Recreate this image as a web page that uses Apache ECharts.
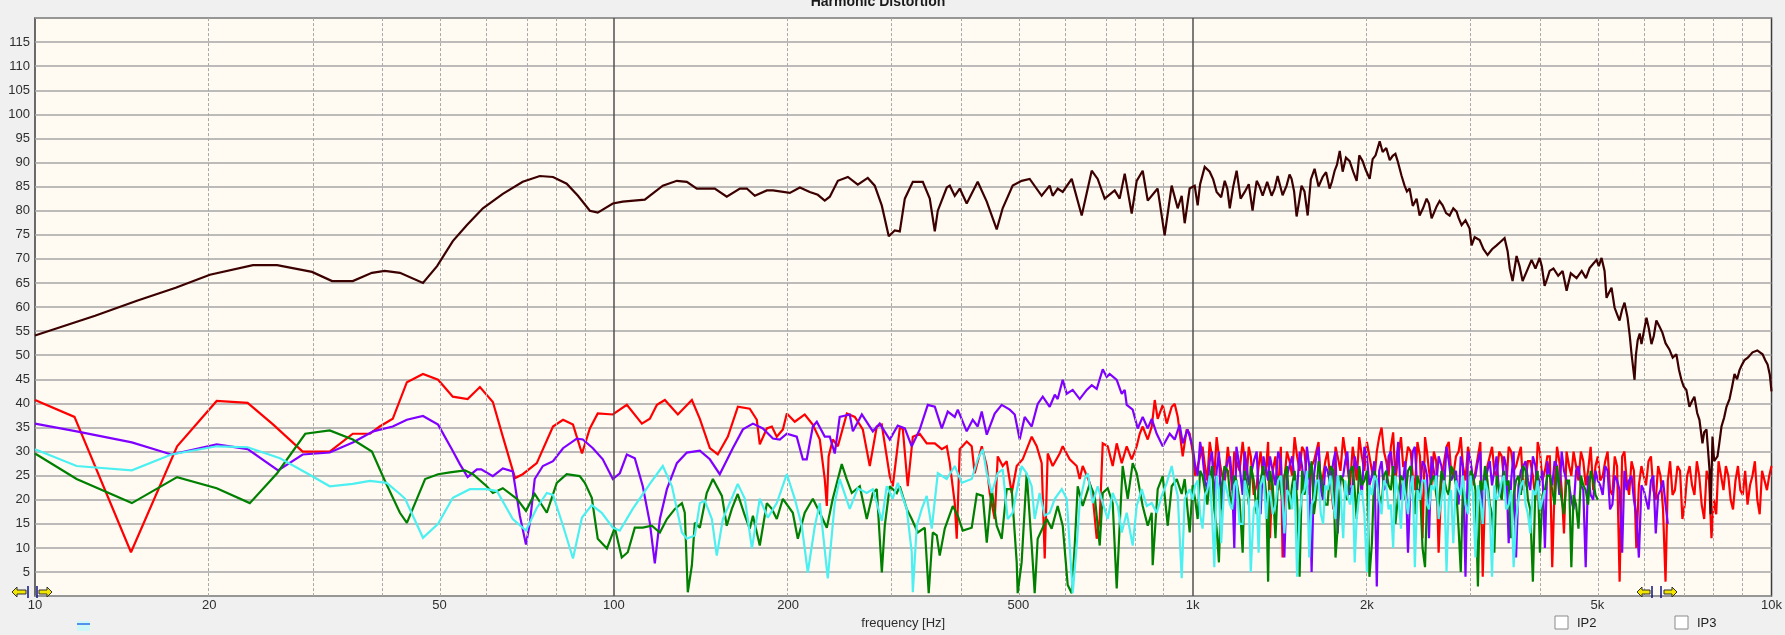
<!DOCTYPE html>
<html><head><meta charset="utf-8">
<script src="https://cdn.jsdelivr.net/npm/echarts@6/dist/echarts.min.js"></script>
<style>html,body{margin:0;padding:0;background:#F0F0F0;overflow:hidden}#c{width:1785px;height:635px}</style>
</head><body><div id="c"></div>
<script>
// ---- tick / grid values (Hz) ----
const xTickHz = [10,20,50,100,200,500,1000,2000,5000,10000];
const minorGridHz = [20,30,40,50,60,70,80,90,200,300,400,500,600,700,800,900,2000,3000,4000,5000,6000,7000,8000,9000];
const majorGridHz = [100,1000];

// ---- fundamental [Hz, dB] ----
const fundamental = [[10,54.1],[12.7,58.2],[15,61.3],[17.5,64.0],[20.05,66.7],[23.8,68.7],[26.2,68.7],[30.1,67.3],[32.6,65.4],[35.4,65.4],[38.2,67.1],[40.2,67.5],[42.7,67.1],[46.8,65.0],[49.5,68.5],[52.7,73.7],[55.7,77.0],[59.4,80.5],[64.3,83.5],[69.6,86.0],[74.5,87.2],[78.5,87.0],[82.9,85.6],[86.7,83.1],[90.9,80.0],[93.8,79.6],[99.6,81.5],[103.6,81.9],[113.1,82.3],[121.5,85.2],[128.5,86.2],[133.7,86.0],[139.1,84.6],[149.4,84.6],[156.7,82.9],[165.1,84.6],[169.7,84.6],[175.2,83.1],[183.8,84.2],[188.3,84.2],[201.4,83.7],[209.6,84.8],[218,83.9],[225.1,83.3],[231.4,82.1],[236.1,82.9],[243.8,86.2],[253.7,87.0],[263.9,85.4],[274.6,86.8],[282.3,85.2],[290.3,81.1],[298.5,74.7],[305.7,75.9],[311.9,75.7],[318.2,82.5],[328.5,86.0],[341.8,86.0],[351.4,82.5],[358.5,75.7],[362.8,80.0],[376,84.8],[380.5,85.2],[388.1,83.1],[395.9,84.6],[407,81.5],[425.2,86.0],[440.8,81.9],[458.6,76.1],[469.6,80.5],[488.7,85.2],[506.5,86.2],[522.9,86.6],[548.4,83.1],[566.2,85.2],[573,83.1],[584.5,84.6],[596.3,83.9],[618,86.6],[643.1,79.0],[669.2,88.3],[685.3,86.6],[704.7,82.5],[733.3,84.2],[748,82.5],[763.1,87.7],[784.6,79.4],[800.4,86.2],[819.7,88.3],[836.3,82.1],[869.9,84.6],[894.5,74.9],[919.8,85.2],[942.1,80.5],[957.2,83.1],[968.7,77.4],[988.1,84.6],[1008,85.2],[1020,81.1],[1049,89.1],[1070,88.1],[1100,83.9],[1136,86.2],[1159,80.5],[1191,88.3],[1230,83.9],[1269,80.0],[1290,86.2],[1321,83.1],[1369,83.1],[1402,87.2],[1453,85.2],[1482,86.6],[1512,78.8],[1542,85.2],[1580,79.0],[1624,88.7],[1677,87.0],[1724,84.6],[1759,88.3],[1795,92.4],[1816,88.1],[1867,90.3],[1920,86.2],[1966,90.3],[2022,86.6],[2046,90.7],[2104,94.4],[2129,92.2],[2216,91.4],[2260,90.3],[2296,87.2],[2323,85.2],[2370,84.6],[2437,82.5],[2466,79.0],[2536,82.5],[2587,78.4],[2639,80.9],[2703,81.1],[2779,79.0],[2857,79.8],[2915,77.0],[3009,76.3],[3033,72.8],[3131,73.9],[3232,70.8],[3350,72.8],[3458,74.3],[3500,71.6],[3570,65.4],[3627,70.6],[3715,65.4],[3850,69.8],[3975,70.2],[4055,64.4],[4137,67.5],[4356,67.5],[4426,63.4],[4605,66.0],[4850,68.1],[4986,69.8],[5086,70.2],[5147,67.5],[5188,61.9],[5292,64.0],[5356,59.9],[5463,57.2],[5573,60.9],[5640,57.8],[5731,50.2],[5799,44.9],[5872,53.1],[5962,52.3],[6081,57.8],[6203,52.3],[6325,57.2],[6478,54.7],[6661,51.2],[6849,50.2],[6987,44.9],[7127,42.8],[7213,39.3],[7358,41.4],[7507,36.6],[7598,31.7],[7720,34.6],[7813,26.3],[7850,17],[7907,33.1],[8066,29.0],[8195,35.2],[8360,39.3],[8461,40.9],[8631,46.1],[8804,46.9],[8982,49.0],[9272,50.6],[9650,50.2],[9843,48.1],[10000,42.5]];
const fundamentalDetail = [[1030,85.5],[1085,86.5],[1120,82.8],[1148,84.5],[1175,85.0],[1210,82.5],[1250,85.5],[1280,83.5],[1305,85.0],[1345,86.0],[1385,84.5],[1430,83.2],[1470,87.5],[1497,84.0],[1525,81.5],[1560,84.0],[1600,86.5],[1650,85.0],[1700,88.0],[1740,86.0],[1775,89.5],[1840,91.0],[1895,88.0],[1940,91.5],[1990,88.5],[2070,91.5],[2160,93.0],[2190,90.5],[2240,91.8],[2345,84.0],[2400,81.0],[2500,80.5],[2560,81.5],[2610,79.5],[2670,82.0],[2740,79.5],[2820,80.5],[2880,78.5],[2960,78.0],[3070,74.5],[3180,72.0],[3290,72.0],[3400,73.5],[3530,68.0],[3670,68.5],[3780,67.5],[3910,68.0],[4010,68.5],[4100,66.0],[4200,68.0],[4280,66.5],[4500,67.0],[4700,67.5],[4780,66.0],[4920,69.0],[5030,68.5],[5240,63.0],[5410,58.5],[5520,59.5],[5690,54.0],[5830,50.0],[5920,54.5],[6020,55.0],[6140,55.5],[6260,54.0],[6400,56.0],[6560,52.5],[6750,49.5],[6920,47.0],[7050,43.5],[7290,40.5],[7440,38.0],[7650,34.0],[7960,28.0],[8120,31.5],[8280,37.0],[8550,43.5],[8720,45.0],[8890,48.0],[9100,49.5],[9450,51.0],[9750,49.0],[9930,46.0]];

// ---- harmonics, low/mid part [Hz, dB] ----
const redLow = [[10,40.7],[11.7,37.2],[14.65,9.1],[17.6,31.1],[20.6,40.5],[23.3,40.1],[25.8,35.6],[29,30.0],[32.3,30.0],[35.4,33.7],[37.9,33.7],[39.4,35.2],[41.5,36.8],[43.9,44.4],[46.8,46.1],[49.7,44.9],[52.7,41.4],[55.9,40.9],[58.7,43.4],[61.8,40.3],[64.3,33.1],[67.5,24.5],[69.6,25.3],[73.6,27.6],[78.5,35.2],[81.7,36.6],[85,35.6],[88.1,29.6],[90.9,34.8],[93.8,37.9],[99.6,37.7],[105.3,39.7],[111.8,35.8],[115.4,36.8],[118.7,39.7],[122.5,40.7],[129,37.7],[136.4,40.7],[140.8,36.8],[146.5,30.7],[151.2,29.4],[157.4,33.1],[163.8,39.3],[171.7,38.9],[176.6,36.6],[178.7,31.5],[183.8,34.8],[187.5,35.2],[191.2,33.1],[195.9,34.6],[199,37.9],[205.4,36.2],[213.7,37.7],[220.6,35.6],[226.9,32.5],[231.4,24.3],[233.3,18.7],[235,29.0],[238.9,32.5],[243.8,31.1],[252.7,37.9],[260.8,37.2],[269.2,34.6],[276.8,27.0],[284.6,35.2],[290.3,35.6],[299.7,24.9],[303.3,22.8],[311.9,34.8],[315.6,34.8],[321.9,22.8],[328.5,33.1],[337.7,33.7],[347.2,31.7],[358.5,31.7],[368.6,30.5],[376,31.1],[380.5,27.6],[388.1,19.3],[391.2,11.9],[395.9,30.5],[407,32.1],[415.2,31.1],[420.2,25.5],[432.1,31.1],[440.8,27.0],[446.1,21.4],[455,16.0],[460.5,29.0],[469.7,27.0],[477.2,28.0],[486.8,21.4],[496.6,27.0],[508.6,28.4],[527.1,33.1],[537.7,31.1],[548.5,27.6],[555.1,7.8],[561.8,29.6],[573,27.0],[589.2,29.6],[596.3,31.1],[613.1,28.4],[630.4,27.0],[638,24.3],[645.7,27.0],[663.9,23.5],[671.9,20.8],[682.7,11.9],[690.9,16.0],[699.2,31.7],[713.2,31.1],[727.5,27.0],[739.2,31.7],[754.1,27.6],[769.2,31.1],[784.6,28.4],[800.4,31.1],[810,33.7],[819.7,35.2],[836.3,32.5],[849.7,35.2],[859.9,40.7],[870.1,36.8],[887.7,39.7],[902,35.8],[920,39.3],[931.1,39.9],[942.3,37.2],[961.1,29.0],[976.3,34.6],[988.1,33.7]];
const purpleLow = [[10,35.8],[11.8,34.2],[14.7,31.9],[17.2,29.4],[20.6,31.5],[23.3,30.5],[26.3,26.1],[29,29.4],[32.3,29.8],[35.4,31.9],[38.4,34.2],[41.5,35.2],[43.9,36.6],[46.8,37.4],[49.7,35.6],[52.5,30.5],[54.2,27.4],[55.9,24.7],[58,26.3],[59,26.3],[61.8,24.9],[64.3,26.5],[66.9,25.9],[68.8,16.7],[70.5,10.7],[71.6,15.2],[73,24.3],[75.4,27.0],[78.5,28.0],[81.7,30.7],[86.3,32.7],[88.4,32.5],[92,30.7],[95.7,28.4],[99.6,24.3],[102.4,25.5],[105.3,29.4],[108.7,28.6],[112.2,22.8],[115.4,15.2],[117.7,6.8],[120.1,16.0],[123.5,22.2],[128.5,27.6],[133.7,29.8],[140.8,30.2],[146.5,28.4],[152.4,25.3],[160.5,30.7],[167.1,34.6],[173.9,35.8],[180.9,34.8],[188.3,32.7],[193.5,32.5],[199,33.7],[207,33.1],[212.1,28.4],[215.4,28.4],[220.7,35.2],[224.2,36.2],[231.4,33.1],[236.1,33.1],[240.8,29.6],[245.6,37.2],[255.6,37.7],[258.8,34.2],[268.2,37.7],[280.2,34.2],[288,35.8],[299.7,32.5],[309.4,35.4],[318.2,34.8],[327.1,31.1],[337.7,34.6],[348.6,39.7],[358.5,39.3],[368.6,34.8],[377.5,38.3],[388.1,37.2],[392.8,38.7],[407,34.2],[416.9,36.6],[425.2,35.2],[432.1,38.3],[440.8,33.5],[455,37.9],[467.8,39.7],[483,38.7],[492.7,37.7],[502.5,32.5],[512.6,37.2],[527.1,35.2],[539.8,39.9],[550.8,41.4],[566.2,39.3],[577.8,41.8],[584.5,40.9],[596.3,44.9],[605.9,42.0],[620.5,42.8],[638,40.9],[656.1,42.8],[669.2,43.8],[682.7,43.0],[699.2,47.1],[710.4,45.5],[718.9,46.1],[739.2,44.9],[754.1,42.0],[763.1,42.8],[769.2,39.7],[787.7,38.7],[803.6,34.8],[819.7,37.2],[836.3,34.8],[849.7,36.8],[866.7,33.7],[887.7,31.1],[912.7,33.7],[931.1,32.5],[949.6,35.6],[961.1,31.7],[980.1,34.6]];
const greenLow = [[10,29.6],[11.8,24.3],[14.7,19.3],[17.6,24.7],[20.6,22.4],[23.5,19.3],[26.2,25.5],[29.3,33.7],[32.3,34.4],[35.4,32.5],[38.2,30.0],[40.2,24.0],[42.7,17.3],[43.9,15.2],[47.2,24.3],[49.7,25.3],[52.1,25.7],[55.3,26.1],[57.1,25.3],[60.3,22.8],[61.8,21.4],[64.3,22.4],[68,20.2],[70.5,17.7],[73,21.2],[76.6,17.3],[79.7,23.5],[82.9,25.3],[87.3,24.9],[89.1,23.5],[91.6,20.4],[93.8,11.9],[97.3,9.9],[100.4,14.2],[103.2,8.0],[105.7,9.1],[108.7,14.2],[112.2,14.2],[116.3,14.6],[120.1,13.2],[123.5,16.0],[127.5,18.1],[131.1,19.3],[132.6,17.3],[134.2,0.8],[136.4,6.4],[138,15.2],[140.8,14.2],[144.7,21.4],[148.3,24.3],[153.7,20.8],[156.7,14.6],[159.9,18.1],[163.7,21.2],[168.4,16.7],[171.7,14.0],[173.9,16.7],[178.7,10.5],[183.8,19.3],[187.5,18.1],[191.2,16.0],[195.9,20.2],[203.8,17.3],[207.9,11.9],[213.7,17.3],[220.7,20.2],[226.9,17.3],[233.3,14.2],[238.9,20.2],[247.6,27.4],[252.5,24.3],[257.7,21.4],[266,22.8],[273.5,16.0],[280.2,21.4],[284.6,22.2],[290.4,4.9],[293.8,14.6],[299.7,22.8],[308.2,21.4],[311.9,22.8],[320.6,18.1],[327.1,16.0],[335,13.2],[344.5,14.2],[349.9,0.6],[355.6,13.2],[361.3,12.6],[365.6,8.4],[373,14.0],[385.1,18.7],[392.8,16.7],[400.7,13.6],[415.2,14.2],[423.7,21.2],[433.9,20.8],[440.8,11.1],[449.6,22.2],[458.6,14.6],[467.8,11.9],[477.2,22.2],[486.8,22.2],[496.6,7.0],[498.5,0.6],[506.4,7.0],[516.7,25.5],[527.1,10.5],[533.4,0.6],[539.8,11.9],[559.6,16.0],[570.7,14.0],[584.5,18.7],[596.3,14.6],[608.3,2.3],[618,0.6],[625.5,10.5],[633,22.8],[645.7,18.7],[663.9,23.3],[677.2,20.8],[690.9,10.5],[699.2,21.4],[713.2,22.4],[727.5,19.3],[739.2,1.6],[747.9,14.6],[756.9,27.0],[772.3,20.2],[787.7,27.6],[800.4,25.5],[819.7,18.7],[836.3,14.6],[849.7,17.3],[852.9,6.4],[870.1,22.2],[887.7,24.9],[905.6,14.6],[920,22.8],[938.6,24.3],[957.2,21.2],[968.7,24.3],[988.1,13.2]];
const cyanLow = [[10,30.5],[11.8,27.0],[14.7,26.1],[17.2,29.4],[20.6,31.1],[23.3,30.9],[26.5,28.6],[29.5,25.5],[32.3,22.8],[35.4,23.3],[37.9,23.9],[40.5,23.5],[42.7,21.2],[43.6,20.2],[46.8,12.1],[49.7,15.0],[52.7,20.4],[56.4,22.2],[60.3,22.2],[62.8,21.8],[66.9,16.0],[70.5,13.6],[73.6,18.3],[76.6,21.4],[78.5,21.0],[81.7,14.6],[85,7.8],[88.1,16.3],[91.6,18.9],[95.3,17.3],[99.6,14.2],[102.4,13.6],[107.8,18.1],[115.4,23.3],[121.5,27.0],[126,22.8],[131.1,13.2],[133.7,11.9],[138,12.6],[140.8,19.3],[143.6,19.8],[147.7,16.0],[150.6,8.4],[154.3,16.0],[160.5,20.8],[163.7,23.3],[168.4,20.2],[173.2,9.9],[178.7,20.2],[184.5,16.3],[191.2,19.3],[199,25.3],[205.4,20.2],[211.2,14.6],[216.3,4.9],[222.5,14.6],[226.9,19.3],[234.2,3.7],[240.8,19.3],[245.6,24.3],[255.6,18.1],[263.9,22.4],[273.5,21.4],[280.2,22.2],[290.4,15.6],[296.1,22.8],[303.3,20.2],[309.4,23.5],[320.6,18.1],[327.1,9.1],[328.5,0.8],[333.7,14.6],[340.4,18.1],[347.2,20.8],[354.2,14.0],[362.8,25.5],[376,24.3],[388.1,27.0],[399.1,23.5],[415.2,24.3],[425.2,28.4],[433.9,30.5],[440.8,25.5],[449.6,21.4],[460.5,25.5],[469.7,26.3],[479.1,16.0],[488.7,17.3],[498.5,22.8],[506.4,27.0],[516.7,25.5],[527.1,22.8],[533.4,16.0],[544.1,21.4],[555.1,16.7],[566.2,17.3],[577.8,20.2],[594,22.2],[605.9,20.2],[613.1,10.5],[620.5,0.6],[630.4,10.5],[638,19.3],[651,24.3],[658.8,25.5],[671.9,19.3],[685.3,22.8],[699.2,19.3],[713.2,16.0],[727.5,21.4],[742.3,18.7],[754.1,13.2],[769.2,17.3],[787.7,10.5],[800.4,18.7],[816.5,22.2],[833,18.7],[849.7,19.3],[866.7,17.3],[884.2,20.8],[902,23.5],[920,27.0],[931.1,23.5],[942.3,20.8],[957.2,3.7],[968.7,20.2],[988.1,22.2]];

// ---- harmonics, 1 kHz - 10 kHz: two interleaved frequency lists and their values ----
const hfHzA = [1000,1020,1040,1060,1080,1100,1120,1150,1170,1190,1220,1240,1260,1290,1310,1340,1360,1390,1420,1440,1470,1500,1530,1560,1590,1620,1650,1680,1710,1750,1780,1820,1850,1890,1920,1960,2000,2040,2080,2120,2160,2200,2240,2290,2330,2380,2420,2470,2520,2560,2610,2660,2720,2770,2820,2880,2930,2990,3050,3110,3170,3230,3290,3350,3420,3480,3550,3620,3690,3760,3830,3910,3980,4060,4140,4220,4300,4380,4470,4550,4640,4730,4820,4920,5010,5110,5210,5310,5410,5520,5620,5730,5840,5960,6070,6190,6310,6430,6560,6680,6810,6950,7080,7220,7360,7500,7650,7800,7950,8100,8260,8420,8580,8750,8920,9090,9270,9450,9630,9820,10000];
const hfHzB = [1010,1030,1050,1070,1090,1110,1135,1160,1180,1205,1230,1250,1275,1300,1325,1350,1375,1405,1430,1455,1485,1515,1545,1575,1605,1635,1665,1695,1730,1765,1800,1835,1870,1905,1940,1980,2020,2060,2100,2140,2180,2220,2265,2310,2355,2400,2445,2495,2540,2585,2635,2690,2745,2795,2850,2905,2960,3020,3080,3140,3200,3260,3320,3385,3450,3515,3585,3655,3725,3795,3870,3945,4020,4100,4180,4260,4340,4425,4510,4595,4685,4775,4870,4965,5060,5160,5260,5360,5465,5570,5675,5785,5900,6015,6130,6250,6370,6495,6620,6745,6880,7015,7150,7290,7430,7575,7725,7875,8025,8180,8340,8500,8665,8835,9005,9180,9360,9540,9725,9910];
const redHfA = [30,27,31,24,29,33,26,31,22,28,32,25,29,23,30,27,12,29,31,24,28,33,26,30,21,28,32,25,30,18,29,33,27,31,24,29,32,26,30,35,28,31,24,33,27,30,22,29,33,26,30,9,28,32,25,30,27,31,23,29,4,27,31,25,29,22,30,27,31,24,28,20,30,26,29,23,28,13,27,30,24,28,26,22,29,25,30,21,27,29,24,28,10,27,23,29,20,25,3,28,22,26,19,27,21,25,16,24,20,28,22,25,18,27,21,19,25,20,26,22,27];
const redHfB = [25,29,27,32,25,29,23,27,30,26,28,31,21,27,24,32,26,22,8,30,25,29,31,24,27,30,22,28,24,31,26,30,23,28,33,26,29,24,33,30,25,34,29,27,31,25,32,12,30,23,28,24,31,26,29,33,24,28,26,32,22,29,26,30,24,31,26,29,22,28,25,32,24,29,6,31,22,30,25,27,30,23,31,27,24,28,22,29,3,30,21,26,23,25,28,22,27,18,24,21,27,16,25,23,28,19,26,12,17,25,27,20,24,22,26,23,28,17,24,25];
const purpleHfA = [31,25,29,22,30,26,18,28,24,31,21,27,25,30,17,26,29,23,28,8,27,24,30,22,27,25,31,20,26,28,13,25,30,23,27,21,29,25,2,28,23,30,26,20,28,24,31,22,27,12,26,29,23,28,25,19,27,30,24,28,15,26,23,29,21,27,24,8,26,28,22,27,24,10,25,28,21,26,23,18,27,22,25,20,24,21,26,19,24,9,22,25,17,23,20,24,13,22,19];
const purpleHfB = [27,32,24,28,20,30,25,29,10,27,30,23,28,21,29,24,26,30,18,25,29,22,27,31,5,29,22,27,23,30,24,28,21,29,26,31,23,28,26,22,29,25,32,24,9,30,22,28,25,29,23,27,31,24,26,29,4,28,25,30,24,28,26,21,29,11,30,23,27,24,29,22,26,28,23,27,30,24,20,26,23,6,21,26,23,27,18,25,22,26,24,20,8,22,18,25,21,24,15];
const greenHfA = [23,16,25,19,27,14,22,26,18,24,9,23,27,17,24,21,26,12,22,25,18,26,4,21,25,17,28,22,19,26,14,24,20,27,16,23,26,11,24,19,26,22,15,25,20,27,17,23,6,22,25,18,24,21,26,14,23,19,25,2,22,24,17,25,20,23,12,24,21,26,18,23,9,22,25,19,23,17,24,21,14,23,19,24,20];
const greenHfB = [20,26,22,24,18,7,27,21,25,20,26,19,24,22,27,3,23,25,20,27,23,20,26,24,28,21,25,19,27,8,25,21,26,22,27,24,4,26,21,25,23,27,21,24,26,22,25,10,20,24,21,26,22,27,23,5,20,26,22,24,27,19,9,22,26,24,21,25,27,20,3,26,21,25,22,27,20,24,6,19,25,22,26,21];
const cyanHfA = [20,24,14,22,17,25,11,21,18,24,15,22,5,20,23,16,22,19,25,13,21,24,17,22,8,20,24,15,22,19,25,12,21,23,16,22,5,21,24,17,23,19,25,14,21,23,6,20,24,18,22,16,24,20,11,22,25,17,21,23,15,22,4,20,24,18,22,16,23,19,13,21,18,22];
const cyanHfB = [23,17,21,25,6,22,24,19,23,15,24,20,18,9,25,21,17,24,20,22,18,4,21,26,19,24,17,23,25,16,22,24,19,7,21,17,23,25,20,24,18,10,21,24,17,25,22,24,19,23,25,20,5,22,24,21,19,25,8,20,24,18,23,21,25,19,6,20,24,17,22,24,20];

const lg = f => Math.log10(f);
const byFreq = (a, b) => a[0] - b[0];
function joinHf(low, valsA, valsB) {
  return low.concat(valsA.map((v, i) => [hfHzA[i], v]), valsB.map((v, i) => [hfHzB[i], v])).sort(byFreq);
}
const toXY = arr => arr.map(p => [lg(p[0]), p[1]]);

function lineSeries(name, data, color, width, z) {
  return { name, type: 'line', data: toXY(data), showSymbol: false, symbol: 'none',
    lineStyle: { color, width, join: 'miter', miterLimit: 2 }, itemStyle: { color },
    silent: true, z, sampling: null, animation: false, clip: true };
}

const chart = echarts.init(document.getElementById('c'), null, { renderer: 'canvas' });
const font = 'Liberation Sans, Arial, sans-serif';

const gridSeries = {
  type: 'line', data: [], z: 1, silent: true,
  markLine: { silent: true, symbol: 'none', animation: false, label: { show: false },
    data: minorGridHz.map(f => ({ xAxis: lg(f), lineStyle: { type: [3, 2], color: '#A8A8A8', width: 1 } }))
      .concat(majorGridHz.map(f => ({ xAxis: lg(f), lineStyle: { type: 'solid', color: '#505050', width: 1.5 } }))) }
};

function arrow(points) {
  return { type: 'polygon', shape: { points }, style: { fill: '#F2E600', stroke: '#303030', lineWidth: 1 }, z: 100 };
}
function bar(x) {
  return { type: 'line', shape: { x1: x, y1: 586, x2: x, y2: 598 }, style: { stroke: '#101080', lineWidth: 1.5 }, z: 100 };
}

chart.setOption({
  backgroundColor: '#F0F0F0',
  animation: false,
  grid: { left: 35, right: 10, top: 18, bottom: 34, show: true, backgroundColor: '#FFFAF2', borderColor: '#3C3C3C', borderWidth: 1.5 },
  xAxis: {
    type: 'value', min: 1, max: 4,
    axisLine: { show: false }, axisTick: { show: false }, splitLine: { show: false },
    axisLabel: { customValues: xTickHz.map(lg), showMinLabel: true, showMaxLabel: true, margin: 3,
      color: '#2E2E2E', fontSize: 13, fontFamily: font,
      formatter: v => { const f = Math.round(Math.pow(10, v)); return f >= 1000 ? (f / 1000) + 'k' : String(f); } },
    name: 'frequency [Hz]', nameLocation: 'middle', nameGap: 19,
    nameTextStyle: { color: '#2E2E2E', fontSize: 13, fontFamily: font }
  },
  yAxis: {
    type: 'value', min: 0, max: 120, interval: 5,
    axisLine: { show: false }, axisTick: { show: false },
    splitLine: { show: true, lineStyle: { color: '#A6A6A6', width: 1.5 } },
    axisLabel: { color: '#2E2E2E', fontSize: 13, fontFamily: font, margin: 5,
      formatter: v => (v === 0 || v === 120) ? '' : String(v) }
  },
  graphic: [
    { type: 'text', x: 878, y: 9, style: { text: 'Harmonic Distortion', fill: '#1A1A1A', font: 'bold 14px ' + font, textAlign: 'center', textVerticalAlign: 'bottom' }, z: 100 },
    { type: 'rect', shape: { x: 77, y: 621, width: 13, height: 10 }, style: { fill: '#CFF7F7' }, z: 100 },
    { type: 'line', shape: { x1: 77, y1: 624, x2: 90, y2: 624 }, style: { stroke: '#2A6FE8', lineWidth: 1.5 }, z: 101 },
    { type: 'rect', shape: { x: 1555, y: 616, width: 13, height: 13 }, style: { fill: '#FFFFFF', stroke: '#8A8A8A', lineWidth: 1 }, z: 100 },
    { type: 'text', x: 1577, y: 623, style: { text: 'IP2', fill: '#222', font: '13px ' + font, textVerticalAlign: 'middle' }, z: 100 },
    { type: 'rect', shape: { x: 1675, y: 616, width: 13, height: 13 }, style: { fill: '#FFFFFF', stroke: '#8A8A8A', lineWidth: 1 }, z: 100 },
    { type: 'text', x: 1697, y: 623, style: { text: 'IP3', fill: '#222', font: '13px ' + font, textVerticalAlign: 'middle' }, z: 100 },
    arrow([[12,592],[17,587],[17,590],[26,590],[26,594],[17,594],[17,597]]), bar(28), bar(37),
    arrow([[52,592],[47,587],[47,590],[39,590],[39,594],[47,594],[47,597]]),
    arrow([[1637,592],[1642,587],[1642,590],[1650,590],[1650,594],[1642,594],[1642,597]]), bar(1652), bar(1661),
    arrow([[1677,592],[1672,587],[1672,590],[1664,590],[1664,594],[1672,594],[1672,597]])
  ],
  series: [
    gridSeries,
    lineSeries('H2', joinHf(redLow, redHfA, redHfB), '#FF0000', 2.2, 3),
    lineSeries('H3', joinHf(purpleLow, purpleHfA, purpleHfB), '#8000FF', 2.2, 4),
    lineSeries('H4', joinHf(greenLow, greenHfA, greenHfB), '#008000', 2.2, 5),
    lineSeries('H5', joinHf(cyanLow, cyanHfA, cyanHfB), '#4DF0F0', 2.2, 6),
    lineSeries('Fundamental', fundamental.concat(fundamentalDetail).sort(byFreq), '#3C0000', 2.2, 7)
  ]
});
</script>
</body></html>
